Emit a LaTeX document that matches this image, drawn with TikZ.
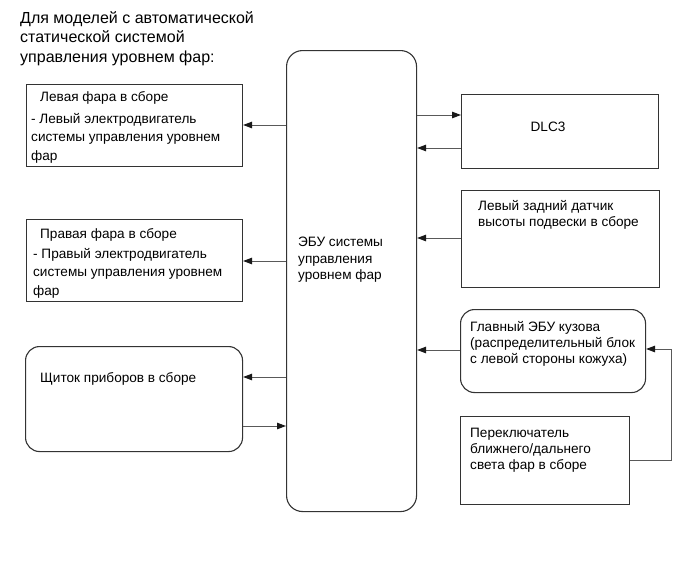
\documentclass[tikz,border=0pt]{standalone}
\usepackage{fontspec}
\setmainfont{Liberation Sans}
\usetikzlibrary{arrows.meta}
\begin{document}
\begin{tikzpicture}[x=1pt,y=-1pt,
  box/.style={draw=black!80,line width=1.1pt,anchor=north west,inner sep=0pt},
  rbox/.style={box,rounded corners=14pt},
  conn/.style={draw=black!65,line width=1pt,-{Triangle[length=9pt,width=6.5pt,color=black!90]}},
  txt/.style={anchor=north west,inner sep=0pt,align=left,font=\fontsize{13.6}{18.5}\selectfont},
  ttl/.style={anchor=north west,inner sep=0pt,align=left,font=\fontsize{16}{19.8}\selectfont}]
\useasboundingbox[fill=white] (0,0) rectangle (691,562);
% title
\node[ttl] (title) at (20,11) {Для моделей с автоматической\\статической системой\\управления уровнем фар:};
% ECU
\node[rbox,rounded corners=16pt,minimum width=130pt,minimum height=461pt] (ecu) at (286,50) {};
\node[txt,font=\fontsize{13.6}{16.6}\selectfont] (ecut) at (298,237) {ЭБУ системы\\управления\\уровнем фар};
% left boxes
\node[box,minimum width=216pt,minimum height=82pt] (b1) at (26,84) {};
\node[txt] (b1a) at (40,91) {Левая фара в сборе};
\node[txt] (b1b) at (31,113) {- Левый электродвигатель\\системы управления уровнем\\фар};
\node[box,minimum width=216pt,minimum height=82pt] (b2) at (26,219) {};
\node[txt] (b2a) at (40,228) {Правая фара в сборе};
\node[txt] (b2b) at (33,248) {- Правый электродвигатель\\системы управления уровнем\\фар};
\node[rbox,minimum width=217pt,minimum height=105pt] (b3) at (25,346) {};
\node[txt] (b3a) at (40,372) {Щиток приборов в сборе};
% right boxes
\node[box,minimum width=197pt,minimum height=74pt] (dlc) at (461,94) {};
\node[txt,anchor=center] (dlct) at (548,127) {DLC3};
\node[box,minimum width=198pt,minimum height=97pt] (sens) at (461,190) {};
\node[txt,font=\fontsize{13.6}{16}\selectfont] (senst) at (478,200) {Левый задний датчик\\высоты подвески в сборе};
\node[rbox,minimum width=185pt,minimum height=83pt] (bec) at (460,309) {};
\node[txt,font=\fontsize{13.6}{16}\selectfont] (bect) at (470,321) {Главный ЭБУ кузова\\(распределительный блок\\с левой стороны кожуха)};
\node[box,minimum width=169pt,minimum height=88pt] (sw) at (460,416) {};
\node[txt,font=\fontsize{13.6}{16}\selectfont] (swt) at (470,428) {Переключатель\\ближнего/дальнего\\света фар в сборе};
% connectors
\draw[conn] (ecu.west |- 0,125) -- (b1.east |- 0,125);
\draw[conn] (ecu.west |- 0,261) -- (b2.east |- 0,261);
\draw[conn] (ecu.west |- 0,377) -- (b3.east |- 0,377);
\draw[conn] (b3.east |- 0,426) -- (ecu.west |- 0,426);
\draw[conn] (ecu.east |- 0,115) -- (dlc.west |- 0,115);
\draw[conn] (dlc.west |- 0,148) -- (ecu.east |- 0,148);
\draw[conn] (sens.west |- 0,238) -- (ecu.east |- 0,238);
\draw[conn] (bec.west |- 0,350) -- (ecu.east |- 0,350);
\coordinate (c1) at (671,460);
\coordinate (c2) at (671,349);
\draw[conn] (sw.east |- c1) -- (c1) -- (c2) -- (bec.east |- c2);
\end{tikzpicture}
\end{document}
